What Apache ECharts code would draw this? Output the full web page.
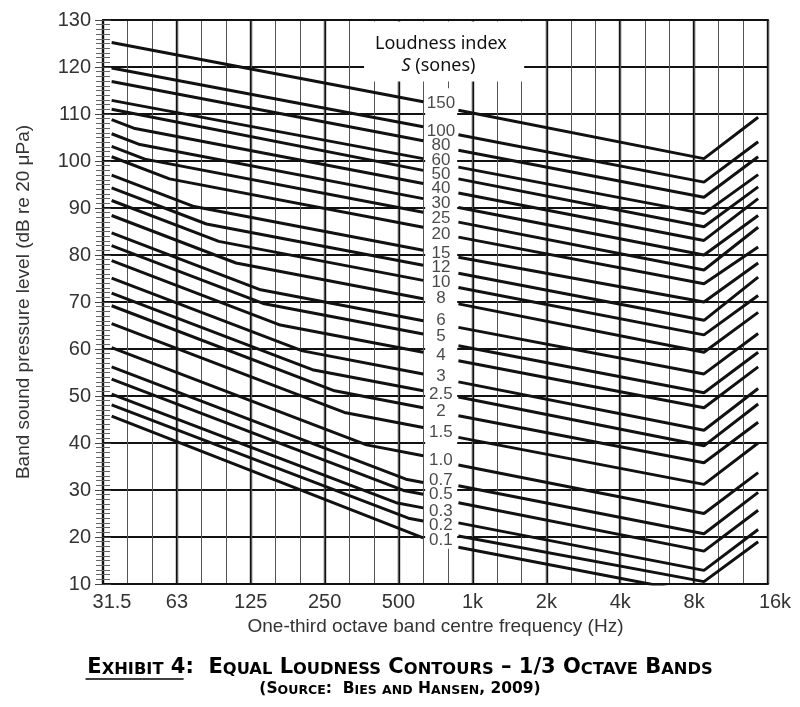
<!DOCTYPE html>
<html>
<head>
<meta charset="utf-8">
<title>Equal Loudness Contours</title>
<script src="https://cdn.jsdelivr.net/npm/echarts@6/dist/echarts.min.js"></script>
<style>
  html, body { margin: 0; padding: 0; background: #fff; }
  #main { width: 800px; height: 707px; }
</style>
</head>
<body>
<div id="main"></div>
<script>
// x axis is in one-third-octave band steps: 0 = 31.5 Hz ... 27 = 16 kHz
var bandLabels = ['31.5', '63', '125', '250', '500', '1k', '2k', '4k', '8k', '16k'];

// loudness index of each contour (sones), top to bottom
var sones = ['150', '100', '80', '60', '50', '40', '30', '25', '20', '15', '12', '10', '8',
  '6', '5', '4', '3', '2.5', '2', '1.5', '1.0', '0.7', '0.5', '0.3', '0.2', '0.1'];

// band positions where the contours are read
var START_BAND = 0.35;
var LEFT_END_BAND = 13;      // 630 Hz, lines stop at the label column
var LABEL_BAND = 13.72;
var RIGHT_START_BAND = 14.43;
var DIP_BAND = 24.4;
var END_BAND = 26.6;

// band levels (dB)
var startLevel = [125.2, 119.8, 116.9, 112.9, 111.0, 108.8, 105.8, 103.1, 100.9, 97.0, 94.3, 91.6, 88.4,
  84.7, 82.0, 78.8, 75.1, 71.9, 69.2, 65.4, 60.3, 56.2, 53.6, 50.4, 48.1, 45.7];
var kneeBand = [null, null, null, null, null, 1.3, 1.5, 1.7, 2.7, 3.7, 4.2, 4.7, 5.4,
  6.4, 6.5, 7.2, 8.1, 8.5, 9.4, 9.8, 10.7, 12.3, 12.2, 11.9, 12.4, null];
var kneeLevel = [null, null, null, null, null, 106.9, 103.5, 100.4, 96.2, 90.3, 86.6, 82.9, 78.3,
  72.6, 69.7, 65.1, 59.6, 55.6, 51.1, 46.5, 39.6, 32.3, 29.9, 27.3, 24.0, null];
var level630 = [112.6, 107.3, 104.3, 100.5, 98.0, 95.2, 92.0, 89.1, 85.9, 81.0, 77.8, 74.6, 70.7,
  66.0, 63.2, 59.3, 54.7, 51.1, 47.5, 43.3, 37.3, 31.6, 29.1, 26.2, 23.4, 19.8];
var rightStartLevel = [110.8, 105.6, 102.3, 98.7, 96.2, 93.2, 90.1, 87.0, 83.8, 79.5, 76.1, 73.1, 69.6,
  64.6, 60.7, 57.5, 53.0, 49.8, 45.8, 41.2, 35.3, 30.9, 27.3, 23.0, 20.2, 17.8];
var dipLevel = [100.5, 95.5, 92.3, 88.8, 86.0, 83.1, 80.0, 76.8, 73.9, 70.0, 66.1, 63.0, 59.3,
  54.7, 50.7, 47.5, 42.7, 39.4, 35.8, 31.2, 25.0, 20.7, 17.0, 12.9, 10.5, 7.8];
var endLevel = [109.3, 104.1, 100.9, 97.1, 94.5, 92.0, 88.4, 85.9, 81.7, 78.3, 75.3, 71.4, 67.8,
  63.3, 59.3, 56.2, 51.6, 48.3, 44.4, 40.0, 33.7, 29.5, 25.7, 21.6, 19.0, null];
var labelLevel = [112.2, 106.4, 103.3, 100.1, 97.1, 94.1, 90.9, 87.7, 84.5, 80.4, 77.3, 74.2, 70.7,
  66.0, 62.8, 58.6, 54.1, 50.4, 46.7, 42.2, 36.3, 32.1, 29.1, 25.5, 22.5, 19.3];

var captionLead = 'Exhibit 4';
var caption1 = captionLead + ':  Equal Loudness Contours \u2013 1/3 Octave Bands';
var caption2 = '(Source:  Bies and Hansen, 2009)';

function contourData(i) {
  var pts = [[START_BAND, startLevel[i]]];
  if (kneeBand[i] != null) pts.push([kneeBand[i], kneeLevel[i]]);
  pts.push([LEFT_END_BAND, level630[i]]);
  pts.push([LABEL_BAND, '-']);
  pts.push([RIGHT_START_BAND, rightStartLevel[i]]);
  pts.push([DIP_BAND, dipLevel[i]]);
  if (endLevel[i] != null) pts.push([END_BAND, endLevel[i]]);
  return pts;
}

// fake small caps with two rich styles
function smallCaps(text, big, small) {
  var out = '', run = '', runStyle = null;
  for (var k = 0; k < text.length; k++) {
    var ch = text[k];
    var lower = ch !== ch.toUpperCase();
    var st = lower ? small : big;
    if (st !== runStyle && run) { out += '{' + runStyle + '|' + run + '}'; run = ''; }
    runStyle = st;
    run += lower ? ch.toUpperCase() : ch;
  }
  if (run) out += '{' + runStyle + '|' + run + '}';
  return out;
}

var FONT = 'Liberation Sans, Arial, sans-serif';
var CAP_FONT = 'DejaVu Sans';
var CAP_BIG = 21, CAP_SMALL = 16.3;

// width of a small-caps string, used to put the underline under "Exhibit 4"
var measureCtx = document.createElement('canvas').getContext('2d');
function capsWidth(text, bigSize, smallSize) {
  var w = 0;
  for (var k = 0; k < text.length; k++) {
    var ch = text[k];
    var lower = ch !== ch.toUpperCase();
    measureCtx.font = 'bold ' + (lower ? smallSize : bigSize) + 'px "' + CAP_FONT + '"';
    w += measureCtx.measureText(lower ? ch.toUpperCase() : ch).width;
  }
  return w;
}

var series = sones.map(function (s, i) {
  return {
    name: s + ' sones',
    type: 'line',
    data: contourData(i),
    symbol: 'none',
    silent: true,
    clip: true,
    lineStyle: { color: '#111', width: 3 },
    z: 3
  };
});

series.push({
  type: 'scatter',
  silent: true,
  symbolSize: 0,
  data: labelLevel.map(function (v, i) { return [LABEL_BAND, v, sones[i]]; }),
  label: {
    show: true,
    position: 'inside',
    formatter: function (p) { return p.data[2]; },
    fontSize: 17,
    fontFamily: FONT,
    color: '#1a1a1a'
  },
  z: 5
});

var chart = echarts.init(document.getElementById('main'));

chart.setOption({
  animation: false,
  backgroundColor: '#fff',
  grid: { left: 103, right: 32, top: 20, bottom: 123 },
  title: [
    {
      text: smallCaps(caption1, 'b', 's'),
      left: 'center',
      top: 657,
      padding: 0,
      textStyle: {
        rich: {
          b: { fontSize: CAP_BIG, fontWeight: 'bold', fontFamily: CAP_FONT, color: '#000', verticalAlign: 'bottom' },
          s: { fontSize: CAP_SMALL, fontWeight: 'bold', fontFamily: CAP_FONT, color: '#000', verticalAlign: 'bottom' }
        }
      }
    },
    {
      text: smallCaps(caption2, 'b', 's'),
      left: 'center',
      top: 681,
      padding: 0,
      textStyle: {
        rich: {
          b: { fontSize: 15.5, fontWeight: 'bold', fontFamily: CAP_FONT, color: '#000', verticalAlign: 'bottom' },
          s: { fontSize: 12.5, fontWeight: 'bold', fontFamily: CAP_FONT, color: '#000', verticalAlign: 'bottom' }
        }
      }
    }
  ],
  xAxis: [
    {
      type: 'value',
      position: 'bottom',
      min: 0,
      max: 27,
      interval: 3,
      name: 'One-third octave band centre frequency (Hz)',
      nameLocation: 'middle',
      nameGap: 30,
      nameTextStyle: { fontSize: 19, fontFamily: FONT, color: '#333' },
      axisLine: { show: true, lineStyle: { color: '#111', width: 2 } },
      axisTick: { show: false },
      axisLabel: {
        margin: 8,
        fontSize: 20,
        fontFamily: FONT,
        color: '#333',
        formatter: function (v) {
          var i = Math.round(v / 3);
          if (i === 0) return '{first|' + bandLabels[0] + '}';
          if (i === 9) return '{last|' + bandLabels[9] + '}';
          return bandLabels[i];
        },
        rich: {
          first: { padding: [0, 0, 0, 18], fontSize: 20, fontFamily: FONT, color: '#333' },
          last: { padding: [0, 0, 0, 14], fontSize: 20, fontFamily: FONT, color: '#333' }
        }
      },
      splitLine: { show: true, lineStyle: { color: '#111', width: 2.4 } }
    },
    {
      type: 'value',
      position: 'top',
      min: 0,
      max: 27,
      interval: 1,
      axisLine: { show: true, lineStyle: { color: '#111', width: 2 } },
      axisTick: { show: false },
      axisLabel: { show: false },
      splitLine: { show: true, lineStyle: { color: '#555', width: 1 } }
    }
  ],
  yAxis: [
    {
      type: 'value',
      position: 'left',
      min: 10,
      max: 130,
      interval: 10,
      name: 'Band sound pressure level (dB re 20 \u03bcPa)',
      nameLocation: 'middle',
      nameGap: 70,
      nameTextStyle: { fontSize: 19, fontFamily: FONT, color: '#333' },
      axisLine: { show: true, lineStyle: { color: '#111', width: 2 } },
      axisTick: { show: true, inside: true, length: 8, lineStyle: { color: '#444' } },
      minorTick: { show: true, splitNumber: 10, length: 7, lineStyle: { color: '#666', width: 1 } },
      axisLabel: { margin: 12, fontSize: 20, fontFamily: FONT, color: '#333' },
      splitLine: { show: true, lineStyle: { color: '#111', width: 2.2 } }
    },
    {
      type: 'value',
      position: 'right',
      min: 10,
      max: 130,
      interval: 10,
      axisLine: { show: true, lineStyle: { color: '#111', width: 2 } },
      axisTick: { show: true, inside: true, length: 8, lineStyle: { color: '#444' } },
      minorTick: { show: true, splitNumber: 10, length: 7, lineStyle: { color: '#666', width: 1 } },
      axisLabel: { show: false },
      splitLine: { show: false }
    }
  ],
  series: series
});

// white boxes behind the legend title and the sone-label column, placed through the scales
function px(x, y) { return chart.convertToPixel({ xAxisIndex: 0, yAxisIndex: 0 }, [x, y]); }
var boxTL = px(10.6, 130), boxBR = px(17.1, 116.9);
var colTL = px(13.08, 115.5), colBR = px(14.38, 17.5);
var t1 = px(LABEL_BAND, 124.9), t2 = px(LABEL_BAND - 0.1, 120.2);

var capTotal = capsWidth(caption1, CAP_BIG, CAP_SMALL);
var capLead = capsWidth(captionLead, CAP_BIG, CAP_SMALL);
var capLeft = chart.getWidth() / 2 - capTotal / 2;

chart.setOption({
  graphic: [
    {
      type: 'rect', z: 1, silent: true,
      shape: { x: boxTL[0], y: boxTL[1] + 1.5, width: boxBR[0] - boxTL[0], height: boxBR[1] - boxTL[1] - 1.5 },
      style: { fill: '#fff' }
    },
    {
      type: 'rect', z: 1, silent: true,
      shape: { x: colTL[0], y: colTL[1], width: colBR[0] - colTL[0], height: colBR[1] - colTL[1] },
      style: { fill: '#fff' }
    },
    {
      type: 'text', z: 10, silent: true,
      style: {
        x: t1[0], y: t1[1], text: 'Loudness index',
        align: 'center', verticalAlign: 'middle',
        font: '18px "Noto Sans", sans-serif', fill: '#111'
      }
    },
    {
      type: 'text', z: 10, silent: true,
      style: {
        x: t2[0], y: t2[1], text: '{i|S} (sones)',
        align: 'center', verticalAlign: 'middle',
        font: '18px "Noto Sans", sans-serif', fill: '#111',
        rich: { i: { fontStyle: 'italic', fontSize: 18, fontFamily: 'Noto Sans', fill: '#111' } }
      }
    },
    {
      type: 'line', z: 10, silent: true,
      shape: { x1: capLeft, y1: 679, x2: capLeft + capLead, y2: 679 },
      style: { stroke: '#000', lineWidth: 1.5 }
    }
  ]
});
</script>
</body>
</html>
